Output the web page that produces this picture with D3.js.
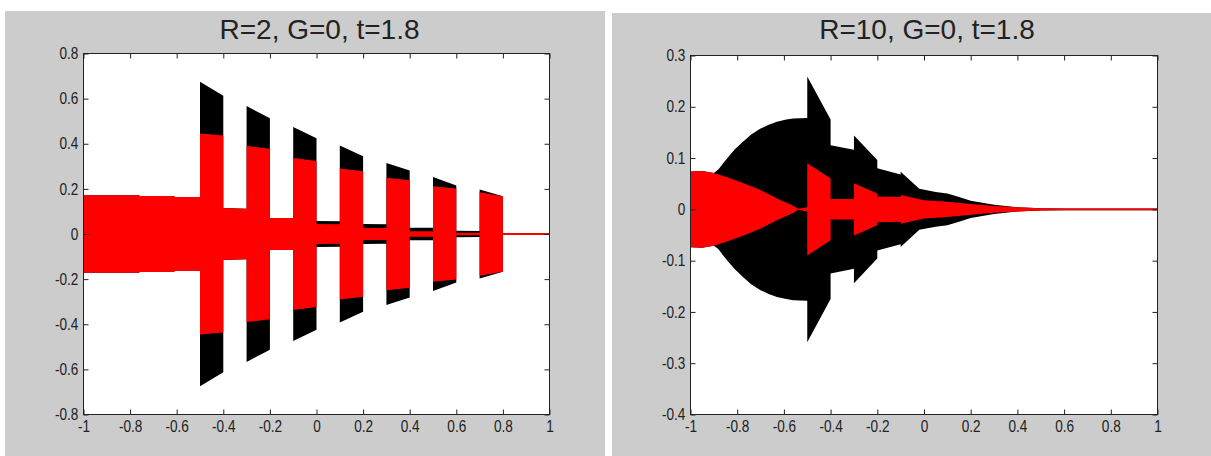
<!DOCTYPE html>
<html>
<head>
<meta charset="UTF-8">
<script src="https://d3js.org/d3.v7.min.js"></script>
<style>
  body { margin: 0; background: #fff; }
  svg { display: block; }
  .tick text { font-family: "Liberation Sans", Arial, sans-serif; font-size: 16px; fill: #222; }
  .title { font-family: "Liberation Sans", Arial, sans-serif; font-size: 28px; fill: #222; }
</style>
</head>
<body>
<svg id="chart"></svg>
<script>
// x ticks shared by both panels
const xTicks = [-1, -0.8, -0.6, -0.4, -0.2, 0, 0.2, 0.4, 0.6, 0.8, 1];

// ---- panel 1: R=2 ----
const title1 = "R=2, G=0, t=1.8";
const yTicks1 = [0.8, 0.6, 0.4, 0.2, 0, -0.2, -0.4, -0.6, -0.8];
// envelopes as [x, half-height]; repeated x = vertical jump
const black1 = [
  [-1, 0.172], [-0.76, 0.172], [-0.76, 0.168], [-0.61, 0.168], [-0.61, 0.164], [-0.5, 0.164],
  [-0.5, 0.675], [-0.4, 0.613], [-0.4, 0.115], [-0.3, 0.112],
  [-0.3, 0.567], [-0.2, 0.513], [-0.2, 0.071], [-0.1, 0.071],
  [-0.1, 0.474], [0, 0.424], [0, 0.058], [0.1, 0.056],
  [0.1, 0.392], [0.2, 0.345], [0.2, 0.044], [0.3, 0.043],
  [0.3, 0.315], [0.4, 0.281], [0.4, 0.028], [0.5, 0.028],
  [0.5, 0.253], [0.6, 0.215], [0.6, 0.014], [0.7, 0.013],
  [0.7, 0.197], [0.8, 0.167], [0.8, 0.004], [1, 0.004]
];
const red1 = [
  [-1, 0.172], [-0.76, 0.172], [-0.76, 0.168], [-0.61, 0.168], [-0.61, 0.164], [-0.5, 0.164],
  [-0.5, 0.445], [-0.4, 0.437], [-0.4, 0.115], [-0.3, 0.112],
  [-0.3, 0.39], [-0.2, 0.378], [-0.2, 0.071], [-0.1, 0.071],
  [-0.1, 0.337], [0, 0.323], [0, 0.044], [0.1, 0.043],
  [0.1, 0.29], [0.2, 0.278], [0.2, 0.027], [0.3, 0.027],
  [0.3, 0.249], [0.4, 0.238], [0.4, 0.012], [0.5, 0.012],
  [0.5, 0.212], [0.6, 0.202], [0.6, 0.005], [0.7, 0.005],
  [0.7, 0.185], [0.8, 0.167], [0.8, 0.004], [1, 0.004]
];

// ---- panel 2: R=10 ----
const title2 = "R=10, G=0, t=1.8";
const yTicks2 = [0.3, 0.2, 0.1, 0, -0.1, -0.2, -0.3, -0.4];
const black2 = [
  [-1, 0.074], [-0.95, 0.075], [-0.9, 0.071], [-0.88, 0.078], [-0.86, 0.09], [-0.84, 0.101],
  [-0.81, 0.117], [-0.773, 0.133], [-0.74, 0.146], [-0.702, 0.157], [-0.665, 0.165],
  [-0.63, 0.171], [-0.59, 0.175], [-0.56, 0.177], [-0.5, 0.178],
  [-0.5, 0.259], [-0.4, 0.175], [-0.4, 0.125], [-0.3, 0.116],
  [-0.3, 0.144], [-0.2, 0.096], [-0.2, 0.08], [-0.1, 0.068],
  [-0.1, 0.0735], [-0.02, 0.04], [0.05, 0.034], [0.1, 0.031], [0.15, 0.024],
  [0.2, 0.017], [0.3, 0.009], [0.4, 0.004], [0.5, 0.002], [0.6, 0.0015], [1, 0.0015]
];
const red2 = [
  [-1, 0.074], [-0.95, 0.075], [-0.9, 0.071], [-0.84, 0.062], [-0.773, 0.051], [-0.702, 0.038],
  [-0.63, 0.021], [-0.56, 0.007], [-0.54, 0.001], [-0.5, 0.004],
  [-0.5, 0.09], [-0.4, 0.06], [-0.4, 0.02], [-0.3, 0.02],
  [-0.3, 0.051], [-0.2, 0.031], [-0.2, 0.025], [-0.1, 0.024],
  [-0.1, 0.028], [0, 0.018], [0.1, 0.015], [0.2, 0.0105], [0.3, 0.0066],
  [0.4, 0.004], [0.5, 0.002], [0.6, 0.0015], [1, 0.0015]
];

const width = 1211, height = 456;
const svg = d3.select("#chart").attr("width", width).attr("height", height);

const panels = [
  {bg: [5, 11, 600, 445], box: [83.5, 53.5, 549.5, 414.5], yDom: [-0.8, 0.8],
   title: title1, yTicks: yTicks1, black: black1, red: red1},
  {bg: [612, 13, 599, 443], box: [690.5, 55.5, 1157.5, 414.5], yDom: [-0.4, 0.3],
   title: title2, yTicks: yTicks2, black: black2, red: red2}
];

const fmt = d => d === 0 ? "0" : String(d);

panels.forEach((p, i) => {
  svg.append("rect")
    .attr("x", p.bg[0]).attr("y", p.bg[1])
    .attr("width", p.bg[2]).attr("height", p.bg[3])
    .attr("fill", "#cccccc");

  const [x0, y0, x1, y1] = p.box;
  const x = d3.scaleLinear().domain([-1, 1]).range([x0, x1]);
  const y = d3.scaleLinear().domain(p.yDom).range([y1, y0]);

  svg.append("rect")
    .attr("x", x0).attr("y", y0)
    .attr("width", x1 - x0).attr("height", y1 - y0)
    .attr("fill", "#fff");

  svg.append("clipPath").attr("id", "clip" + i)
    .append("rect")
    .attr("x", x0).attr("y", y0)
    .attr("width", x1 - x0).attr("height", y1 - y0);

  const area = d3.area()
    .x(d => x(d[0]))
    .y0(d => y(-d[1]))
    .y1(d => y(d[1]));

  const g = svg.append("g").attr("clip-path", `url(#clip${i})`);
  g.append("path").datum(p.black).attr("d", area).attr("fill", "#000");
  g.append("path").datum(p.red).attr("d", area).attr("fill", "#ff0000");

  // axes: inward ticks on all four sides, MATLAB style
  const style = a => a
    .call(s => s.select(".domain").remove())
    .call(s => s.selectAll(".tick line").attr("stroke", "#222"));

  svg.append("g")
    .attr("transform", `translate(0,${y1})`)
    .call(d3.axisBottom(x).tickValues(xTicks).tickSize(-5).tickPadding(6).tickFormat(fmt))
    .call(style)
    .call(s => s.selectAll("text").attr("transform", "scale(0.85,1)"));

  svg.append("g")
    .attr("transform", `translate(0,${y0})`)
    .call(d3.axisTop(x).tickValues(xTicks).tickSize(-5).tickFormat(""))
    .call(style);

  svg.append("g")
    .attr("transform", `translate(${x0},0)`)
    .call(d3.axisLeft(y).tickValues(p.yTicks).tickSize(-5).tickPadding(6).tickFormat(fmt))
    .call(style)
    .call(s => s.selectAll("text").attr("transform", "scale(0.85,1)"));

  svg.append("g")
    .attr("transform", `translate(${x1},0)`)
    .call(d3.axisRight(y).tickValues(p.yTicks).tickSize(-5).tickFormat(""))
    .call(style);

  svg.append("rect")
    .attr("x", x0).attr("y", y0)
    .attr("width", x1 - x0).attr("height", y1 - y0)
    .attr("fill", "none").attr("stroke", "#222").attr("stroke-width", 1);

  svg.append("text")
    .attr("class", "title")
    .attr("x", (x0 + x1) / 2 + 3)
    .attr("y", 39)
    .attr("text-anchor", "middle")
    .text(p.title);
});
</script>
</body>
</html>
